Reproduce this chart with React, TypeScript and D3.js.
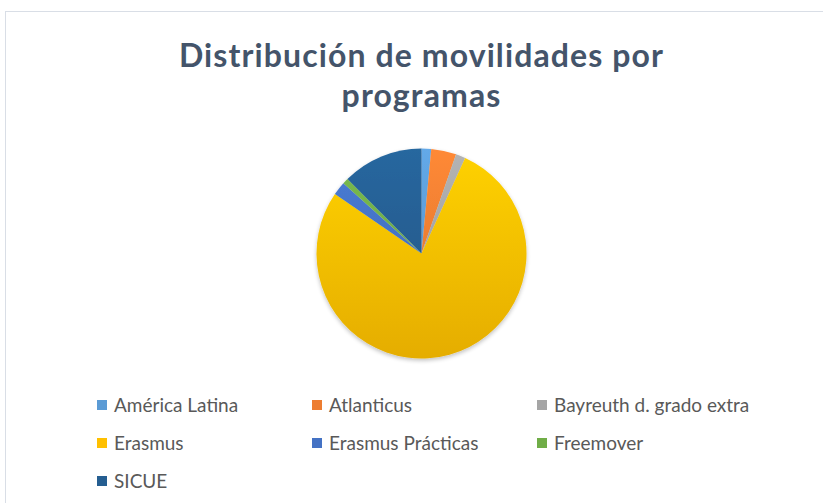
import React from "react";
import * as d3 from "d3";

const categories = [
  "América Latina",
  "Atlanticus",
  "Bayreuth d. grado extra",
  "Erasmus",
  "Erasmus Prácticas",
  "Freemover",
  "SICUE",
];
const values = [5, 13, 5, 262, 7, 3, 42];
const colors = ["#5B9BD5", "#ED7D31", "#A5A5A5", "#FFC000", "#4472C4", "#70AD47", "#255E91"];
const titleLines = ["Distribución de movilidades por", "programas"];

const W = 823;
const H = 503;

export default function App() {
  const cx = 421.5;
  const cy = 253.5;
  const r = 105;
  const pie = d3.pie<number>().sort(null).value((d) => d)(values);
  const arc = d3.arc<d3.PieArcDatum<number>>().innerRadius(0).outerRadius(r);

  const legendCols = [97, 312, 537];
  const legendRows = [405, 443, 481];

  return (
    <svg
      width={W}
      height={H}
      style={{ position: "absolute", left: 0, top: 0, background: "#fff" }}
    >
      <defs>
        {colors.map((c, i) => {
          const top = d3.color(c)!.brighter(0.25).formatHex();
          const bot = d3.color(c)!.darker(0.3).formatHex();
          return (
            <linearGradient
              key={i}
              id={`g${i}`}
              gradientUnits="userSpaceOnUse"
              x1={0}
              y1={-r}
              x2={0}
              y2={r}
            >
              <stop offset="0" stopColor={top} />
              <stop offset="1" stopColor={bot} />
            </linearGradient>
          );
        })}
        <filter id="sh" x="-20%" y="-20%" width="140%" height="140%">
          <feGaussianBlur in="SourceAlpha" stdDeviation="2" />
          <feOffset dx="0" dy="1.5" result="b" />
          <feComponentTransfer>
            <feFuncA type="linear" slope="0.25" />
          </feComponentTransfer>
          <feMerge>
            <feMergeNode />
            <feMergeNode in="SourceGraphic" />
          </feMerge>
        </filter>
      </defs>
      <rect x={5.5} y={11.5} width={W} height={H} fill="#fff" stroke="#D9DEE6" strokeWidth={1} />
      {titleLines.map((t, i) => (
        <text
          key={i}
          x={cx}
          y={67 + i * 40}
          textAnchor="middle"
          fontFamily="Lato"
          fontWeight="bold"
          fontSize={32}
          letterSpacing={1.1}
          fill="#44546A"
        >
          {t}
        </text>
      ))}
      <g transform={`translate(${cx},${cy})`} filter="url(#sh)">
        {pie.map((p, i) => (
          <path key={i} d={arc(p) || ""} fill={`url(#g${i})`} />
        ))}
      </g>
      {categories.map((c, i) => {
        const col = i % 3;
        const row = Math.floor(i / 3);
        const x = legendCols[col];
        const y = legendRows[row];
        return (
          <g key={c}>
            <rect x={x} y={y - 5} width={10} height={10} fill={colors[i]} />
            <text
              x={x + 17}
              y={y + 6.5}
              fontFamily="Lato"
              fontSize={19}
              fill="#595959"
            >
              {c}
            </text>
          </g>
        );
      })}
    </svg>
  );
}
